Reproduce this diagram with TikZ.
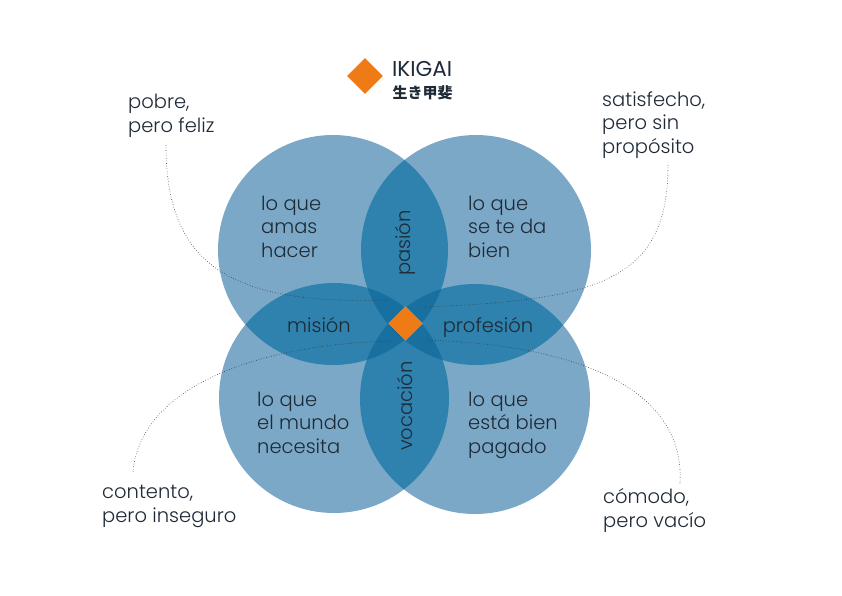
\documentclass[tikz,border=0pt]{standalone}
\usepackage{fontspec}
\setmainfont{Poppins}[UprightFont=* Light]
\newfontfamily\titulo{Poppins}
\newfontfamily\cjk{Noto Sans CJK JP}
\usetikzlibrary{shapes.geometric}
\definecolor{azul1}{HTML}{7BA8C7}
\definecolor{azul2}{HTML}{2F82AD}
\definecolor{azul3}{HTML}{1870A0}
\definecolor{azul4}{HTML}{0D6494}
\definecolor{naranja}{HTML}{EF7B16}
\definecolor{tinta}{HTML}{1E2A36}
\tikzset{
  etiqueta/.style={align=left,anchor=base west,inner sep=0pt,text=tinta,
    font=\fontsize{19.5}{23.5}\selectfont},
  cruce/.style={anchor=base,inner sep=0pt,text=tinta,font=\fontsize{19.5}{24}\selectfont},
  rombo/.style={diamond,fill=naranja,inner sep=0pt,minimum size=#1},
  guia/.style={draw=black!80,dotted,line width=.6pt},
}
\begin{document}
\begin{tikzpicture}[x=1pt,y=-1pt]
\useasboundingbox (0,0) rectangle (842,595);
\fill[white] (0,0) rectangle (842,595);
% centros
\coordinate (tl) at (333,250);
\coordinate (tr) at (476,250);
\coordinate (bl) at (334,398);
\coordinate (br) at (475,399);
\def\r{115pt}
% circulos
\foreach \c in {tl,tr,bl,br}
  \fill[azul1] (\c) circle[radius=\r];
% parejas
\foreach \a/\b in {tl/tr,tl/bl,tl/br,tr/bl,tr/br,bl/br}{
  \begin{scope}
    \clip (\a) circle[radius=\r];
    \fill[azul2] (\b) circle[radius=\r];
  \end{scope}}
% trios
\foreach \a/\b/\c in {tl/tr/bl,tl/tr/br,tl/bl/br,tr/bl/br}{
  \begin{scope}
    \clip (\a) circle[radius=\r];
    \clip (\b) circle[radius=\r];
    \fill[azul3] (\c) circle[radius=\r];
  \end{scope}}
\begin{scope}
  \clip (tl) circle[radius=\r];
  \clip (tr) circle[radius=\r];
  \clip (bl) circle[radius=\r];
  \fill[azul4] (br) circle[radius=\r];
\end{scope}
% titulo
\node[rombo=36pt] (logo) at (365,76) {};
\node[anchor=base west,inner sep=0pt,text=tinta,text depth=0pt,
  font=\titulo\fontsize{21.5}{22}\selectfont] (ikigai) at (392,76) {IKIGAI};
\node[anchor=base west,inner sep=0pt,text=tinta,text height=11pt,
  font=\cjk\bfseries\fontsize{15}{16}\selectfont] (kanji) at (392.5,98.5) {生き甲斐};
% textos exteriores
\node[etiqueta] (pobre) at (128,132) {pobre,\\pero feliz};
\node[etiqueta] (satis) at (602,153) {satisfecho,\\pero sin\\propósito};
\node[etiqueta] (contento) at (102,522) {contento,\\pero inseguro};
\node[etiqueta] (comodo) at (603,527) {cómodo,\\pero vacío};
% textos de los circulos
\node[etiqueta] (amas) at (261,257) {lo que\\amas\\hacer};
\node[etiqueta] (bien) at (468,257) {lo que\\se te da\\bien};
\node[etiqueta] (mundo) at (257,453) {lo que\\el mundo\\necesita};
\node[etiqueta] (pagado) at (468,453) {lo que\\está bien\\pagado};
\node[cruce] (mision) at (319,332) {misión};
\node[cruce] (profesion) at (488,332) {profesión};
\node[cruce,anchor=center,rotate=90] (pasion) at (405,243) {pasión};
\node[cruce,anchor=center,rotate=90] (vocacion) at (405,406) {vocación};
% guias
\coordinate (g1) at (166,145);
\coordinate (g2) at (668,165);
\coordinate (g3) at (133,472);
\coordinate (g4) at (680,483);
\coordinate (e1) at (387,300);
\coordinate (e2) at (425,307);
\coordinate (e3) at (390,341);
\coordinate (e4) at (423,340);
\draw[guia] (g1) .. controls (166,265) and (230,305) .. (e1);
\draw[guia] (g2) .. controls (668,280) and (600,300) .. (e2);
\draw[guia] (g3) .. controls (140,390) and (250,345) .. (e3);
\draw[guia] (g4) .. controls (685,400) and (600,345) .. (e4);
% centro
\node[rombo=35pt] (ikigaic) at (405.5,323.5) {};
\end{tikzpicture}
\end{document}
